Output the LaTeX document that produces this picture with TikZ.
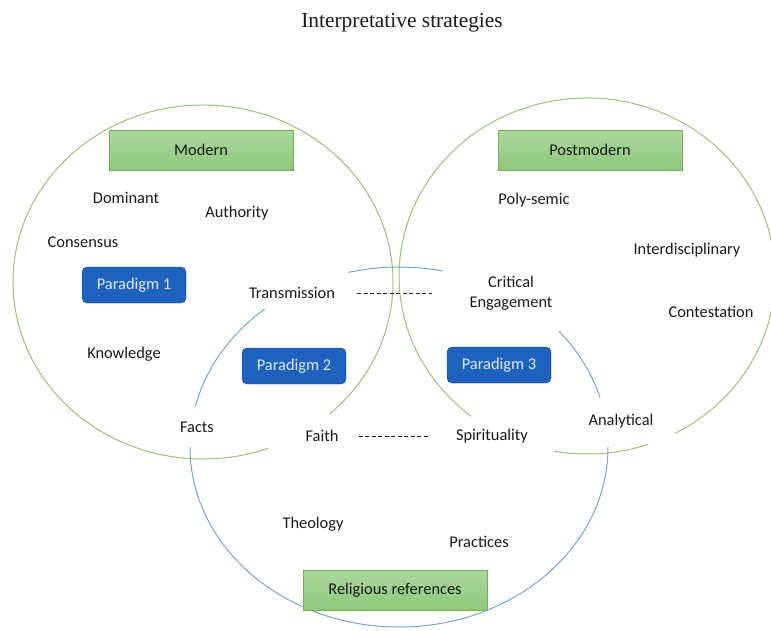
\documentclass[tikz,border=0pt]{standalone}
\usepackage{fontspec}
\setmainfont{Carlito}
\newfontfamily\titlefont{Liberation Serif}

\definecolor{ringgreen}{RGB}{160,190,120}
\definecolor{ringblue}{RGB}{120,165,200}
\definecolor{boxtop}{RGB}{172,216,158}
\definecolor{boxbottom}{RGB}{140,200,122}
\definecolor{boxline}{RGB}{118,176,84}
\definecolor{parafill}{RGB}{30,98,190}
\definecolor{paraline}{RGB}{22,70,140}
\definecolor{paratext}{RGB}{222,234,247}
\definecolor{ink}{RGB}{25,25,25}

\tikzset{
  word/.style={inner sep=0pt,text=ink,font=\fontsize{16.4}{19.5}\selectfont},
  topic/.style={draw=boxline,top color=boxtop,bottom color=boxbottom,minimum width=184pt,minimum height=40pt,inner sep=0pt,text=ink,font=\fontsize{16.4}{19.5}\selectfont},
  para/.style={draw=paraline,fill=parafill,rounded corners=5pt,minimum width=104pt,minimum height=36pt,inner sep=0pt,text=paratext,font=\fontsize{16.4}{19.5}\selectfont},
  ringg/.style={draw=ringgreen,line width=1pt},
  ringb/.style={draw=ringblue,line width=1pt},
  link/.style={draw=ink,line width=0.7pt,dash pattern=on 4pt off 2.5pt}
}

\begin{document}
\begin{tikzpicture}[x=1pt,y=-1pt]
\useasboundingbox (0,0) rectangle (771,630);

\draw[ringg] (203,282) ++(-48:190pt and 177pt) arc[start angle=-48,end angle=290,x radius=190pt,y radius=177pt];
\draw[ringg] (587,276) ++(-62:188pt and 178pt) arc[start angle=-62,end angle=232,x radius=188pt,y radius=178pt];
\draw[ringg] (587,276) ++(-100:188pt and 178pt) arc[start angle=-100,end angle=-71,x radius=188pt,y radius=178pt];

\draw[ringb] (399,447) ++(78:209pt and 180pt) arc[start angle=78,end angle=104,x radius=209pt,y radius=180pt];
\draw[ringb] (399,447) ++(130:209pt and 180pt) arc[start angle=130,end angle=167,x radius=209pt,y radius=180pt];
\draw[ringb] (399,447) ++(180:209pt and 180pt) arc[start angle=180,end angle=360,x radius=209pt,y radius=180pt];
\draw[ringb] (399,447) ++(16:209pt and 180pt) arc[start angle=16,end angle=40,x radius=209pt,y radius=180pt];

\node[font=\titlefont\fontsize{21.4}{24}\selectfont,text=ink] (title) at (402,23) {Interpretative strategies};

\node[topic] (modern) at (201,150) {Modern};
\node[topic] (postmodern) at (590,150) {Postmodern};
\node[topic] (religious) at (395,590) {Religious references};

\node[para] (p1) at (134,285) {Paradigm 1};
\node[para] (p2) at (294,366) {Paradigm 2};
\node[para] (p3) at (499,365) {Paradigm 3};

\node[word] (dom) at (126,198) {Dominant};
\node[word] (auth) at (237,213) {Authority};
\node[word] (cons) at (83,242) {Consensus};
\node[word] (trans) at (292,293) {Transmission};
\node[word] (know) at (124,354) {Knowledge};
\node[word] (facts) at (197,427) {Facts};
\node[word] (faith) at (322,436) {Faith};

\node[word] (poly) at (534,200) {Poly-semic};
\node[word] (inter) at (687,250) {Interdisciplinary};
\node[word,align=center] (crit) at (511,293) {Critical\\Engagement};
\node[word] (cont) at (711,312) {Contestation};
\node[word] (analyt) at (621,421) {Analytical};
\node[word] (spir) at (492,436) {Spirituality};

\node[word] (theo) at (313,524) {Theology};
\node[word] (prac) at (479,542) {Practices};

\draw[link,shorten <=22pt,shorten >=37pt] (trans.east) -- (trans.east -| crit.west);
\draw[link,shorten <=20pt,shorten >=26pt] (faith.east) -- (faith.east -| spir.west);
\end{tikzpicture}
\end{document}
